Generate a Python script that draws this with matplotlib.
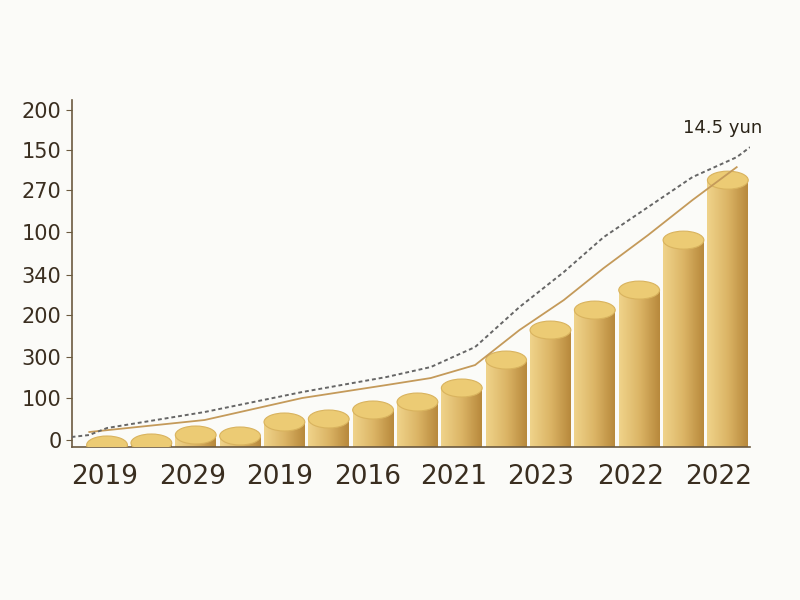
import matplotlib
matplotlib.use("Agg")
import matplotlib.pyplot as plt
import numpy as np
from matplotlib.patches import Ellipse

bar_heights = [2, 4, 12, 11, 25, 28, 37, 45, 59, 87, 117, 137, 157, 207, 267]
ytick_vals = [7, 49, 90, 132, 172, 215, 257, 297, 337]
ytick_labels = ["0", "100", "300", "200", "340", "100", "270", "150", "200"]
xtick_pos = [-0.05, 1.94, 3.9, 5.87, 7.81, 9.77, 11.8, 13.8]
xtick_labels = ["2019", "2029", "2019", "2016", "2021", "2023", "2022", "2022"]
dash_x = [-0.8, -0.4, 0, 2.2, 4.4, 6.3, 7.3, 8.3, 9.3, 10.3, 11.2, 12.2, 13.2, 14.2, 14.5]
dash_y = [10, 12, 19, 35, 55, 70, 80, 100, 140, 175, 210, 240, 270, 290, 300]
line_x = [-0.4, 2.2, 4.4, 6.3, 7.3, 8.3, 9.3, 10.3, 11.2, 12.2, 13.2, 14.2]
line_y = [15, 27, 49, 62, 69, 82, 117, 147, 179, 212, 247, 280]

narrow = ["Liberation Sans Narrow", "DejaVu Sans"]

fig = plt.figure(figsize=(8, 6), dpi=100, facecolor="#fbfbf8")
ax = fig.add_axes([0.09, 0.255, 0.8475, 0.578])
ax.set_facecolor("#fbfbf8")
ax.set_xlim(-0.79, 14.5)
ax.set_ylim(0, 347)

cmap = matplotlib.colors.LinearSegmentedColormap.from_list("g", ["#efd38a", "#dcb566", "#b8893c"])
w = 0.92
for i, h in enumerate(bar_heights):
    grad = np.linspace(0, 1, 50).reshape(1, -1)
    ax.imshow(grad, extent=[i - w/2, i + w/2, 0, h], aspect="auto", cmap=cmap, zorder=2)
    ax.add_patch(Ellipse((i, h), w, 18, facecolor="#eccb74", edgecolor="#d9b35e", lw=0.8, zorder=3))

ax.plot(line_x, line_y, color="#c49a5a", lw=1.3, zorder=4)
ax.plot(dash_x, dash_y, color="#666666", lw=1.4, ls=(0, (2, 1.5)), zorder=4)
ax.text(13.0, 310, "14.5 yun", fontsize=13, color="#2b2418", ha="left", va="bottom", family=narrow)

ax.set_yticks(ytick_vals)
ax.set_yticklabels(ytick_labels, fontsize=15, color="#3a2e20", family=narrow)
ax.set_xticks(xtick_pos)
ax.set_xticklabels(xtick_labels, fontsize=19, color="#3a2e20", family=narrow)
ax.tick_params(axis="x", length=0, pad=12)
ax.tick_params(axis="y", length=4, color="#6b5a40")
for s in ["top", "right"]:
    ax.spines[s].set_visible(False)
for s in ["left", "bottom"]:
    ax.spines[s].set_color("#6b5a40")
    ax.spines[s].set_linewidth(1.2)

fig.savefig("out.png", dpi=100, facecolor=fig.get_facecolor())
